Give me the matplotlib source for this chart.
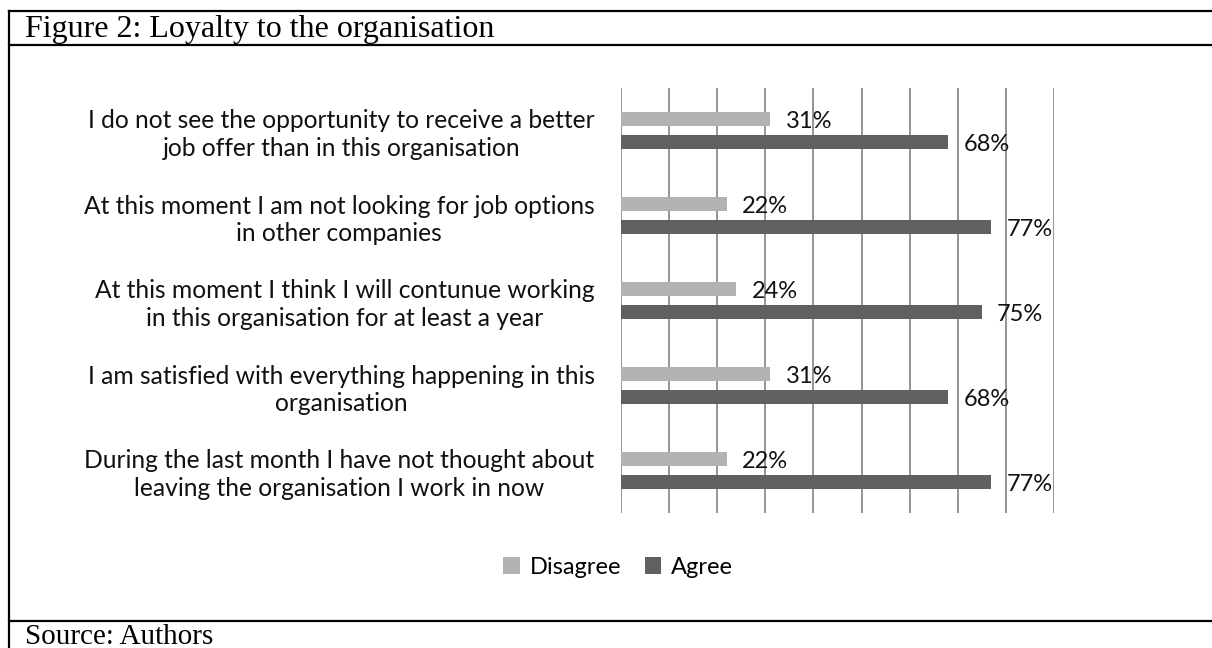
import matplotlib
matplotlib.use("Agg")
import matplotlib.pyplot as plt
from matplotlib.lines import Line2D
from matplotlib.patches import Patch
import numpy as np

categories = [
    "I do not see the opportunity to receive a better\njob offer than in this organisation",
    "At this moment I am not looking for job options\nin other companies",
    "At this moment I think I will contunue working\nin this organisation for at least a year",
    "I am satisfied with everything happening in this\norganisation",
    "During the last month I have not thought about\nleaving the organisation I work in now",
]
disagree = [31, 22, 24, 31, 22]
agree = [68, 77, 75, 68, 77]
series_names = ["Disagree", "Agree"]
title_text = "Figure 2: Loyalty to the organisation"
source_text = "Source: Authors"

W, H = 1212, 648
fig = plt.figure(figsize=(W / 100, H / 100), dpi=100)
fig.patch.set_facecolor("white")

sans = ["Lato", "DejaVu Sans"]
serif = ["Liberation Serif", "DejaVu Serif"]
fs = 17

ax = fig.add_axes([621 / W, 1 - 513 / H, (1054 - 621) / W, (513 - 88) / H])
y = np.arange(len(categories))
bh = 0.165
off = 0.134
c_dis = "#b2b2b2"
c_agr = "#606060"
b1 = ax.barh(y - off, np.array(disagree) / 100, height=bh, color=c_dis, zorder=3)
b2 = ax.barh(y + off, np.array(agree) / 100, height=bh, color=c_agr, zorder=3)

for bars, vals in ((b1, disagree), (b2, agree)):
    for rect, v in zip(bars, vals):
        ax.annotate(f"{v}%", xy=(rect.get_width(), rect.get_y() + rect.get_height() / 2),
                    xytext=(11, -2), textcoords="offset points", va="center", ha="left",
                    fontsize=fs, family=sans, color="#111111", zorder=4)

ax.set_xlim(0, 0.9)
ax.set_ylim(len(categories) - 0.5, -0.5)
ax.set_xticks(np.arange(0, 0.91, 0.1))
ax.tick_params(axis="x", length=0, labelbottom=False)
ax.grid(axis="x", color="#8c8c8c", linewidth=1.3, zorder=0)
for s in ax.spines.values():
    s.set_visible(False)
ax.set_yticks(y)
ax.set_yticklabels(categories, fontsize=17.7, family=sans, color="#111111", linespacing=1.22)
ax.tick_params(axis="y", length=0, pad=19)
for t in ax.get_yticklabels():
    t.set_multialignment("center")

handles = [Patch(facecolor=c_dis, label=series_names[0]), Patch(facecolor=c_agr, label=series_names[1])]
fig.legend(handles=handles, loc="center", bbox_to_anchor=(618 / W, 1 - 567 / H), ncol=2,
           frameon=False, prop={"family": sans, "size": fs}, handlelength=0.7, handleheight=0.7,
           handletextpad=0.4, columnspacing=1.0)

# frame lines
lw = 1.6
fig.add_artist(Line2D([8.5 / W, 8.5 / W], [1 - 11 / H, 0], color="black", lw=lw, transform=fig.transFigure))
for yy in (11, 45, 621):
    fig.add_artist(Line2D([8.5 / W, 1], [1 - yy / H, 1 - yy / H], color="black", lw=lw, transform=fig.transFigure))

fig.text(25 / W, 1 - 29 / H, title_text, fontsize=23, family=serif, va="center", ha="left")
fig.text(25 / W, 1 - 637 / H, source_text, fontsize=21, family=serif, va="center", ha="left")

fig.savefig("out.png", dpi=100, facecolor="white")
